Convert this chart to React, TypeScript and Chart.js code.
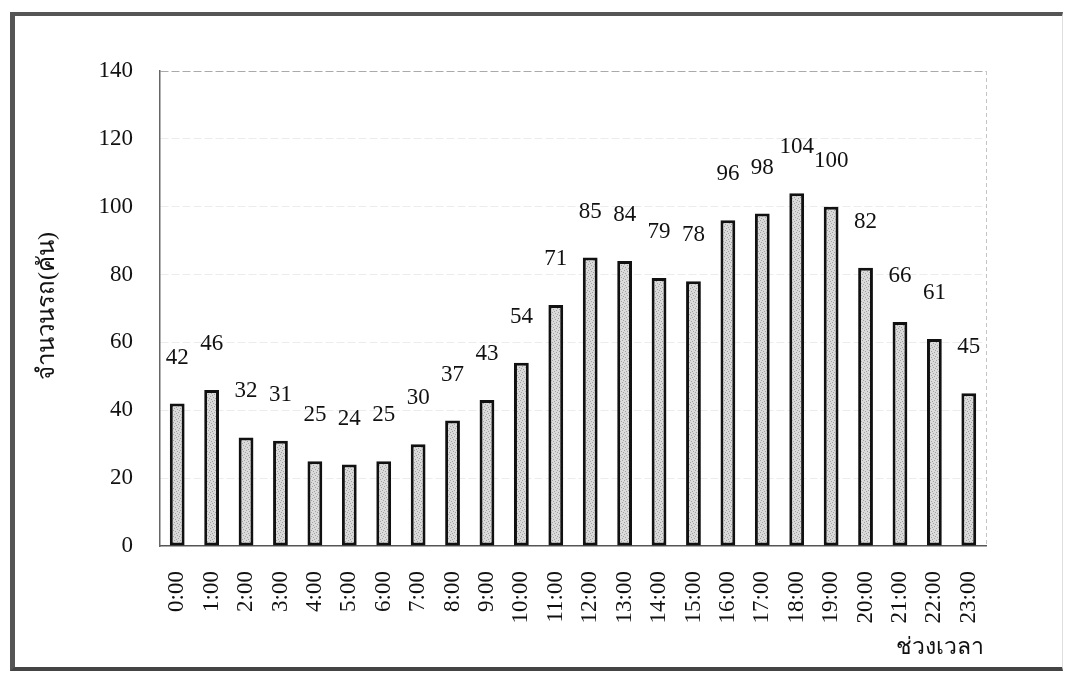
import React, { useEffect, useRef } from "react";
import { Chart, registerables } from "chart.js";

Chart.register(...registerables);

const hours: string[] = [
  "0:00", "1:00", "2:00", "3:00", "4:00", "5:00", "6:00", "7:00",
  "8:00", "9:00", "10:00", "11:00", "12:00", "13:00", "14:00", "15:00",
  "16:00", "17:00", "18:00", "19:00", "20:00", "21:00", "22:00", "23:00",
];
const vehicles: number[] = [
  42, 46, 32, 31, 25, 24, 25, 30, 37, 43, 54, 71,
  85, 84, 79, 78, 96, 98, 104, 100, 82, 66, 61, 45,
];
const yTicks: number[] = [0, 20, 40, 60, 80, 100, 120, 140];
const yTitle = "จำนวนรถ(คัน)";
const xTitle = "ช่วงเวลา";

const SERIF = "'Liberation Serif', 'Times New Roman', serif";

function makePattern(): CanvasPattern | string {
  const c = document.createElement("canvas");
  c.width = 6;
  c.height = 6;
  const g = c.getContext("2d");
  if (!g) return "#d0d0d0";
  g.fillStyle = "#dadada";
  g.fillRect(0, 0, 6, 6);
  g.fillStyle = "#a0a0a0";
  const dots = [[0, 0], [3, 1], [1, 3], [4, 4], [5, 2], [2, 5]];
  dots.forEach(([x, y]) => g.fillRect(x, y, 1, 1));
  const p = g.createPattern(c, "repeat");
  return p || "#d0d0d0";
}

const labelPlugin = {
  id: "valueLabels",
  afterDatasetsDraw(chart: any) {
    const { ctx } = chart;
    const meta = chart.getDatasetMeta(0);
    ctx.save();
    ctx.font = `23px ${SERIF}`;
    ctx.fillStyle = "#111";
    ctx.textAlign = "center";
    ctx.textBaseline = "middle";
    meta.data.forEach((bar: any, i: number) => {
      ctx.fillText(String(vehicles[i]), bar.x, bar.y - 46);
    });
    ctx.restore();
  },
};

const framePlugin = {
  id: "frameAndTitles",
  afterDraw(chart: any) {
    const { ctx, chartArea } = chart;
    ctx.save();
    ctx.strokeStyle = "#c4c4c4";
    ctx.lineWidth = 1;
    ctx.setLineDash([4, 3]);
    ctx.beginPath();
    ctx.moveTo(chartArea.right + 0.5, chartArea.top);
    ctx.lineTo(chartArea.right + 0.5, chartArea.bottom);
    ctx.stroke();
    ctx.setLineDash([]);
    ctx.fillStyle = "#111";
    ctx.font = `24px ${SERIF}`;
    ctx.textAlign = "center";
    ctx.textBaseline = "middle";
    ctx.translate(48, 306);
    ctx.rotate(-Math.PI / 2);
    ctx.fillText(yTitle, 0, 0);
    ctx.restore();
    ctx.save();
    ctx.fillStyle = "#111";
    ctx.font = `23px ${SERIF}`;
    ctx.textAlign = "right";
    ctx.textBaseline = "middle";
    ctx.fillText(xTitle, chartArea.right - 2, 648);
    ctx.restore();
  },
};

export default function App() {
  const ref = useRef<HTMLCanvasElement | null>(null);

  useEffect(() => {
    if (!ref.current) return;
    const chart = new Chart(ref.current, {
      type: "bar",
      data: {
        labels: hours,
        datasets: [
          {
            data: vehicles,
            backgroundColor: makePattern() as any,
            borderColor: "#111",
            borderWidth: 3,
            borderSkipped: false,
            barPercentage: 0.43,
            categoryPercentage: 1,
          },
        ],
      },
      options: {
        responsive: false,
        animation: false,
        devicePixelRatio: 1,
        layout: { padding: { left: 0, top: 71, right: 79, bottom: 0 } },
        plugins: {
          legend: { display: false },
          tooltip: { enabled: false },
        },
        scales: {
          x: {
            grid: { display: false, drawTicks: false },
            border: { display: true, color: "#555", width: 1.5 },
            ticks: {
              minRotation: 90,
              maxRotation: 90,
              autoSkip: false,
              padding: 25,
              color: "#111",
              font: { family: SERIF, size: 23 },
            },
            afterFit(scale: any) {
              scale.height = 129;
            },
          },
          y: {
            min: 0,
            max: 140,
            afterBuildTicks(scale: any) {
              scale.ticks = yTicks.map((v) => ({ value: v }));
            },
            grid: {
              drawTicks: false,
              color: (c: any) =>
                c.tick && c.tick.value === 140
                  ? "#aaa"
                  : c.tick && c.tick.value === 0
                  ? "rgba(0,0,0,0)"
                  : "#ececec",
              lineWidth: 1,
            },
            border: { display: true, color: "#666", width: 1.5, dash: [8, 3] },
            ticks: {
              padding: 27,
              color: "#111",
              font: { family: SERIF, size: 23 },
            },
            afterFit(scale: any) {
              scale.width = 160;
            },
          },
        },
      },
      plugins: [labelPlugin, framePlugin],
    });
    return () => chart.destroy();
  }, []);

  return (
    <div
      style={{
        position: "fixed",
        left: 0,
        top: 0,
        width: 1065,
        height: 675,
        background: "#fff",
      }}
    >
      <div
        style={{
          position: "absolute",
          left: 10,
          top: 12,
          width: 1053,
          height: 659,
          borderTop: "4px solid #555",
          borderLeft: "5px solid #555",
          borderBottom: "4px solid #444",
          borderRight: "1px solid #ddd",
          boxSizing: "border-box",
          pointerEvents: "none",
        }}
      />
      <canvas
        ref={ref}
        width={1065}
        height={675}
        style={{ position: "absolute", left: 0, top: 0 }}
      />
    </div>
  );
}
